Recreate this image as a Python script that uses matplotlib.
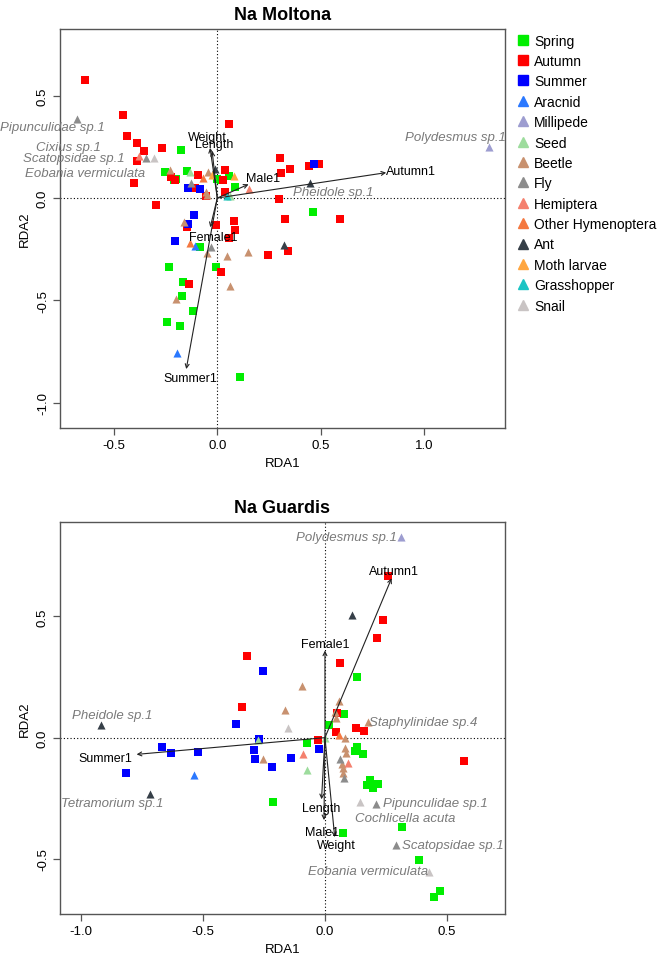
import matplotlib
matplotlib.use("Agg")
import matplotlib.pyplot as plt
from matplotlib.lines import Line2D

plt.rcParams['font.family'] = ['Liberation Sans', 'DejaVu Sans']

seasons = ["Spring", "Autumn", "Summer"]
groups = ["Aracnid", "Millipede", "Seed", "Beetle", "Fly", "Hemiptera",
          "Other Hymenoptera", "Ant", "Moth larvae", "Grasshopper", "Snail"]
colors = {
    "Spring": "#00ee00", "Autumn": "#ff0000", "Summer": "#0000ff",
    "Aracnid": "#2a78ff", "Millipede": "#9d9dd0", "Seed": "#9ddc9d",
    "Beetle": "#c8916f", "Fly": "#8c8c8c", "Hemiptera": "#f4806e",
    "Other Hymenoptera": "#f47840", "Ant": "#363f48", "Moth larvae": "#ffa640",
    "Grasshopper": "#1cc4c4", "Snail": "#c9c4c4",
}

# ---- Na Moltona ----
mol_spring = [(-0.174, 0.233), (-0.251, 0.129), (-0.146, 0.133), (-0.211, 0.088), (-0.2, 0.092),
              (-0.002, 0.093), (0.02, 0.09), (0.056, 0.109), (0.087, 0.052), (0.464, -0.068),
              (-0.082, -0.238), (-0.235, -0.339), (-0.008, -0.339), (-0.164, -0.412), (-0.171, -0.480),
              (-0.117, -0.552), (-0.243, -0.608), (-0.180, -0.627), (0.108, -0.875)]
mol_autumn = [(-0.641, 0.578), (-0.456, 0.406), (-0.436, 0.305), (-0.386, 0.267), (-0.354, 0.230),
              (-0.390, 0.182), (-0.269, 0.243), (-0.404, 0.072), (-0.298, -0.033), (0.055, 0.363),
              (-0.224, 0.101), (-0.203, 0.088), (-0.095, 0.114), (-0.108, 0.047), (0.039, 0.138),
              (0.029, 0.088), (0.039, 0.028), (-0.055, 0.012), (-0.005, -0.132), (0.082, -0.112),
              (0.085, -0.156), (0.056, -0.197), (0.303, 0.197), (0.353, 0.143), (0.306, 0.122),
              (0.444, 0.156), (0.49, 0.165), (0.298, -0.007), (0.325, -0.104), (0.591, -0.104),
              (-0.146, -0.143), (0.245, -0.279), (0.343, -0.259), (0.016, -0.360), (-0.135, -0.420)]
mol_summer = [(0.466, 0.165), (-0.143, 0.05), (-0.082, 0.044), (-0.113, -0.082), (-0.143, -0.127),
              (-0.206, -0.212)]
mol_groups = {
    "Aracnid": [(-0.195, -0.758), (-0.110, -0.236)],
    "Millipede": [(1.312, 0.251)],
    "Seed": [(-0.134, 0.125), (0.062, 0.012)],
    "Beetle": [(-0.227, 0.137), (-0.045, 0.129), (-0.163, -0.119), (-0.055, 0.028), (-0.048, 0.015),
               (-0.201, -0.494), (0.063, -0.428), (0.045, -0.285), (0.148, -0.266), (-0.052, -0.269)],
    "Fly": [(-0.678, 0.386), (-0.343, 0.197), (-0.126, 0.072), (-0.031, -0.241)],
    "Hemiptera": [(-0.380, 0.205), (0.153, 0.044)],
    "Other Hymenoptera": [(-0.069, 0.099), (-0.130, -0.220)],
    "Ant": [(-0.013, 0.143), (0.449, 0.073), (0.320, -0.230)],
    "Moth larvae": [(-0.024, 0.111), (0.079, 0.106)],
    "Grasshopper": [(0.048, 0.011)],
    "Snail": [(-0.308, 0.194)],
}
mol_arrow_names = ["Weight", "Length", "Male1", "Female1", "Summer1", "Autumn1"]
mol_arrow_tips = [(-0.035, 0.245), (-0.025, 0.23), (0.151, 0.067), (-0.034, -0.143), (-0.150, -0.836), (0.816, 0.124)]
mol_arrow_lab = [(-0.05, 0.30), (-0.015, 0.262), (0.219, 0.098), (-0.018, -0.189), (-0.13, -0.88), (0.937, 0.133)]
mol_species = ["Pipunculidae sp.1", "Cixius sp.1", "Scatopsidae sp.1", "Eobania vermiculata",
               "Pheidole sp.1", "Polydesmus sp.1"]
mol_species_pos = [(-0.799, 0.349), (-0.718, 0.248), (-0.691, 0.195), (-0.638, 0.122), (0.56, 0.028), (1.15, 0.296)]

# ---- Na Guardis ----
gua_spring = [(0.130, 0.250), (0.079, 0.099), (0.015, 0.051), (-0.075, -0.021), (-0.214, -0.265),
              (0.131, -0.038), (0.124, -0.056), (0.157, -0.067), (0.186, -0.176), (0.174, -0.196),
              (0.198, -0.206), (0.219, -0.193), (0.314, -0.367), (0.074, -0.394), (0.384, -0.506),
              (0.471, -0.631), (0.445, -0.655)]
gua_autumn = [(0.26, 0.668), (0.239, 0.487), (0.214, 0.412), (0.061, 0.308), (-0.321, 0.335),
              (-0.339, 0.126), (0.048, 0.102), (0.127, 0.041), (0.16, 0.028), (0.044, 0.023),
              (-0.027, -0.011), (0.571, -0.098)]
gua_summer = [(-0.253, 0.274), (-0.366, 0.058), (-0.270, -0.004), (-0.023, -0.048), (-0.291, -0.049),
              (-0.286, -0.086), (-0.138, -0.082), (-0.216, -0.123), (-0.667, -0.040), (-0.632, -0.063),
              (-0.522, -0.058), (-0.817, -0.145)]
gua_groups = {
    "Aracnid": [(-0.536, -0.155)],
    "Millipede": [(0.311, 0.826)],
    "Seed": [(0.001, -0.001), (-0.273, -0.011), (-0.075, -0.134)],
    "Beetle": [(-0.096, 0.211), (-0.164, 0.112), (0.059, 0.153), (0.042, 0.106), (0.045, 0.081),
               (0.178, 0.065), (0.083, -0.001), (-0.253, -0.086), (0.082, -0.041), (0.086, -0.062),
               (0.068, -0.107), (0.072, -0.125), (0.072, -0.144)],
    "Fly": [(0.061, -0.089), (0.078, -0.166), (0.209, -0.272), (0.291, -0.442)],
    "Hemiptera": [(-0.089, -0.066), (0.093, -0.103)],
    "Other Hymenoptera": [(0.059, 0.012)],
    "Ant": [(0.112, 0.506), (-0.918, 0.051), (-0.717, -0.232)],
    "Snail": [(-0.150, 0.040), (0.143, -0.267), (0.427, -0.553)],
}
gua_arrow_names = ["Summer1", "Autumn1", "Female1", "Length", "Male1", "Weight"]
gua_arrow_tips = [(-0.772, -0.069), (0.273, 0.657), (0.0, 0.359), (-0.014, -0.254), (-0.004, -0.34), (0.04, -0.41)]
gua_arrow_lab = [(-0.899, -0.084), (0.284, 0.688), (0.0, 0.387), (-0.016, -0.289), (-0.012, -0.387), (0.045, -0.444)]
gua_species = ["Polydesmus sp.1", "Pheidole sp.1", "Tetramorium sp.1", "Staphylinidae sp.4",
               "Pipunculidae sp.1", "Cochlicella acuta", "Scatopsidae sp.1", "Eobania vermiculata"]
gua_species_pos = [(0.089, 0.826), (-0.872, 0.092), (-0.874, -0.269), (0.403, 0.065),
                   (0.454, -0.269), (0.328, -0.330), (0.525, -0.444), (0.175, -0.551)]


def panel(ax, title, spring, autumn, summer, grp, anames, atips, alabs, sp, sp_pos,
          xlim, ylim, xt, yt):
    ax.axhline(0, color='black', ls=(0, (1, 2)), lw=0.8, zorder=1)
    ax.axvline(0, color='black', ls=(0, (1, 2)), lw=0.8, zorder=1)
    for name, pts in zip(seasons, [spring, autumn, summer]):
        ax.scatter([p[0] for p in pts], [p[1] for p in pts], marker='s', s=26,
                   color=colors[name], linewidths=0, zorder=3)
    for name, pts in grp.items():
        ax.scatter([p[0] for p in pts], [p[1] for p in pts], marker='^', s=34,
                   color=colors[name], linewidths=0, zorder=3)
    for nm, tip, lab in zip(anames, atips, alabs):
        ax.annotate("", xy=tip, xytext=(0, 0),
                    arrowprops=dict(arrowstyle='->', lw=0.8, color='#222222',
                                    shrinkA=0, shrinkB=0, mutation_scale=7), zorder=4)
        ax.text(lab[0], lab[1], nm, ha='center', va='center', fontsize=9, zorder=5)
    for nm, pos in zip(sp, sp_pos):
        ax.text(pos[0], pos[1], nm, ha='center', va='center', fontsize=9.5,
                style='italic', color='#7a7a7a', zorder=5, clip_on=False)
    ax.set_xlim(*xlim)
    ax.set_ylim(*ylim)
    ax.set_xticks(xt)
    ax.set_yticks(yt)
    ax.set_xticklabels([f"{v:.1f}" for v in xt], fontsize=9.5)
    ax.set_yticklabels([f"{v:.1f}" for v in yt], fontsize=9.5, rotation=90, va='center')
    ax.tick_params(direction='out', length=5, width=0.9, color='#555555', pad=3)
    for s in ax.spines.values():
        s.set_color('#555555')
        s.set_linewidth(1.0)
    ax.set_xlabel("RDA1", fontsize=9.5, labelpad=4)
    ax.set_ylabel("RDA2", fontsize=9.5, labelpad=4)
    ax.set_title(title, fontsize=13, fontweight='bold', pad=7)


fig = plt.figure(figsize=(6.62, 9.70), dpi=100)
ax1 = fig.add_axes([60 / 662, 1 - 429 / 970, 445 / 662, 399 / 970])
ax2 = fig.add_axes([60 / 662, 1 - 915 / 970, 445 / 662, 392 / 970])

panel(ax1, "Na Moltona", mol_spring, mol_autumn, mol_summer, mol_groups,
      mol_arrow_names, mol_arrow_tips, mol_arrow_lab, mol_species, mol_species_pos,
      (-0.76, 1.39), (-1.124, 0.826), [-0.5, 0.0, 0.5, 1.0], [-1.0, -0.5, 0.0, 0.5])
panel(ax2, "Na Guardis", gua_spring, gua_autumn, gua_summer, gua_groups,
      gua_arrow_names, gua_arrow_tips, gua_arrow_lab, gua_species, gua_species_pos,
      (-1.086, 0.738), (-0.727, 0.889), [-1.0, -0.5, 0.0, 0.5], [-0.5, 0.0, 0.5])

handles = [Line2D([], [], marker='s', ls='', color=colors[n], markersize=7) for n in seasons]
handles += [Line2D([], [], marker='^', ls='', color=colors[n], markersize=7) for n in groups]
fig.legend(handles, seasons + groups, loc='upper left', bbox_to_anchor=(512 / 662, 1 - 29 / 970),
           frameon=False, fontsize=10, handlelength=0.8, handletextpad=0.4, labelspacing=0.46,
           borderaxespad=0)

fig.savefig("out.png", dpi=100)
